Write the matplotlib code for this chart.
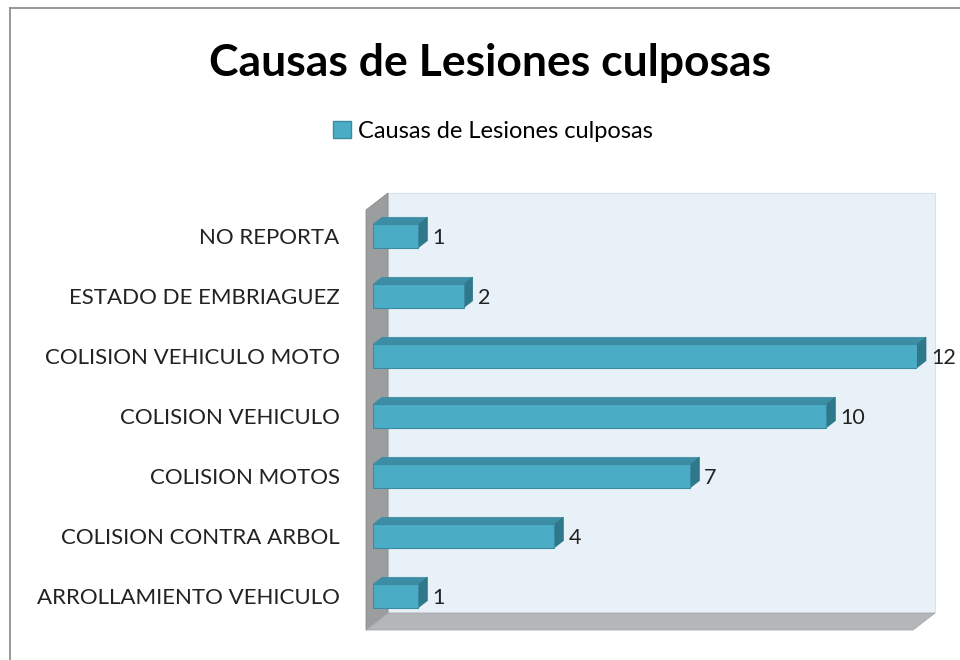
"""Causas de Lesiones culposas - Excel style 3D bar chart."""

import matplotlib
matplotlib.use("Agg")
import matplotlib.pyplot as plt
from matplotlib.patches import Polygon
from matplotlib.lines import Line2D

###################################################################################################
###################################################################################################

categories = ["ARROLLAMIENTO VEHICULO", "COLISION CONTRA ARBOL", "COLISION MOTOS",
              "COLISION VEHICULO", "COLISION VEHICULO MOTO", "ESTADO DE EMBRIAGUEZ", "NO REPORTA"]
values = [1, 4, 7, 10, 12, 2, 1]
series_name = "Causas de Lesiones culposas"
title = "Causas de Lesiones culposas"

FRONT = "#4bacc6"
TOP = "#3d8ea5"
SIDE = "#2f788c"
EDGE = "#3a8aa0"
FONT = ["Lato", "DejaVu Sans"]


def main():

    plt.rcParams['font.family'] = FONT
    fig = plt.figure(figsize=(9.6, 6.6), dpi=100)

    # front plane of the plot: 0..12 on x, categories on y
    ax = fig.add_axes([373 / 960, 1 - 626 / 660, 544 / 960, 420 / 660])
    ax.set_xlim(0, 12)
    ax.set_ylim(-0.5, len(categories) - 0.5)
    ux = 12 / 544.0
    uy = len(categories) / 420.0

    # walls (back, left, floor)
    wx0, wx1 = -7 * ux, 15 * ux
    wdy = 17 * uy
    y_bot = -0.5 - 4 * uy
    y_top = -0.5 + 416 * uy
    back_right = (935 - 373) * ux
    ax.add_patch(Polygon([(wx1, y_bot + wdy), (back_right, y_bot + wdy),
                          (back_right, y_top + wdy), (wx1, y_top + wdy)],
                         closed=True, fc="#e9f1f8", ec="#d8e2ea", lw=0.8, clip_on=False, zorder=0))
    ax.add_patch(Polygon([(wx0, y_bot), (wx1, y_bot + wdy), (wx1, y_top + wdy), (wx0, y_top)],
                         closed=True, fc="#9b9d9f", ec="#8a8c8e", lw=0.6, clip_on=False, zorder=1))
    ax.add_patch(Polygon([(wx0, y_bot), (wx1, y_bot + wdy), (back_right, y_bot + wdy),
                          (back_right - 22 * ux, y_bot)],
                         closed=True, fc="#b3b7ba", ec="#a4a8ab", lw=0.6, clip_on=False, zorder=1))

    # bars
    ypos = list(range(len(categories)))
    bars = ax.barh(ypos, values, height=0.39, color=FRONT, edgecolor=EDGE, lw=0.8, zorder=3)
    ddx, ddy = 9 * ux, 7 * uy
    for b, v in zip(bars, values):
        x0, y0 = b.get_x(), b.get_y()
        w, h = b.get_width(), b.get_height()
        ax.add_patch(Polygon([(x0, y0 + h), (x0 + ddx, y0 + h + ddy),
                              (x0 + w + ddx, y0 + h + ddy), (x0 + w, y0 + h)],
                             closed=True, fc=TOP, ec=TOP, lw=0.5, zorder=2, clip_on=False))
        ax.add_patch(Polygon([(x0 + w, y0), (x0 + w + ddx, y0 + ddy),
                              (x0 + w + ddx, y0 + h + ddy), (x0 + w, y0 + h)],
                             closed=True, fc=SIDE, ec=SIDE, lw=0.5, zorder=2, clip_on=False))
        ax.text(x0 + w + ddx + 5 * ux, y0 + h / 2 - 1.5 * uy, str(v), ha="left", va="center",
                fontsize=15.5, color="#222222", zorder=4)

    ax.set_yticks(ypos)
    ax.set_yticklabels(categories, fontsize=16, color="#222222")
    ax.tick_params(axis="y", length=0, pad=24)
    ax.set_xticks([])
    for s in ax.spines.values():
        s.set_visible(False)
    ax.patch.set_visible(False)

    fig.text(490 / 960, 1 - 63 / 660, title, ha="center", va="center",
             fontsize=32, fontweight="bold", color="black")

    # legend
    fig.legend([Polygon([(0, 0)], fc=FRONT, ec=EDGE)], [series_name], loc="center",
               bbox_to_anchor=(493 / 960, 1 - 131 / 660), frameon=False, fontsize=17,
               handlelength=0.75, handleheight=0.75, handletextpad=0.3)

    # chart border
    fig.add_artist(Line2D([10 / 960, 10 / 960], [0, 1 - 8 / 660], color="#888888", lw=1.2))
    fig.add_artist(Line2D([10 / 960, 1], [1 - 8 / 660, 1 - 8 / 660], color="#888888", lw=1.2))

    plt.savefig("out.png", dpi=100)


if __name__ == "__main__":
    main()
